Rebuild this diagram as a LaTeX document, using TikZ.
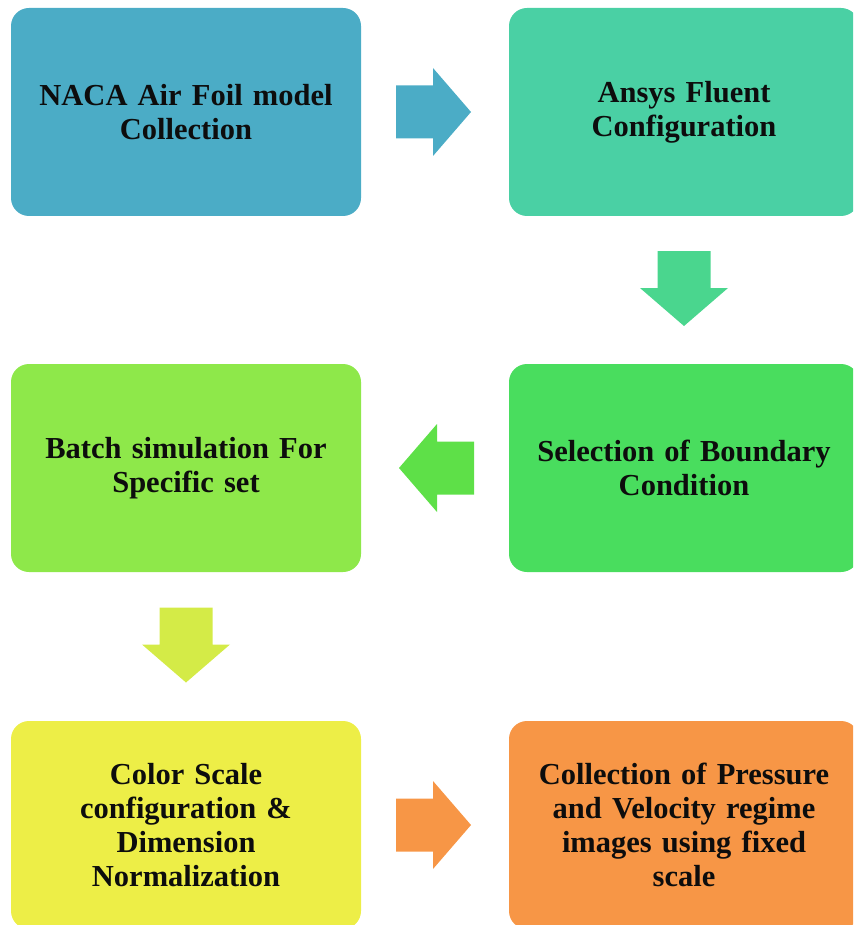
\documentclass[tikz,border=0pt]{standalone}
\usepackage{fontspec}
\setmainfont{Liberation Serif}
\usetikzlibrary{calc}

\definecolor{cNaca}{HTML}{4BACC6}
\definecolor{cAnsys}{HTML}{4AD0A4}
\definecolor{cAnsysArr}{HTML}{4AD68E}
\definecolor{cBound}{HTML}{49DD5E}
\definecolor{cBoundArr}{HTML}{5EE048}
\definecolor{cBatch}{HTML}{8EE84A}
\definecolor{cBatchArr}{HTML}{D4EB47}
\definecolor{cColor}{HTML}{EDEE47}
\definecolor{cOut}{HTML}{F79646}
\definecolor{ink}{HTML}{0D0D0D}

\tikzset{
  x=1pt, y=-1pt,
  stagebox/.style={rectangle, rounded corners=18pt, minimum width=350pt,
    minimum height=208pt, inner sep=0pt, text width=340pt, align=center,
    font=\fontsize{30.5}{34}\selectfont\bfseries, text=ink},
  blockarrow/.pic={
    \fill (-37,-26.5) -- (0,-26.5) -- (0,-44) -- (38,0) -- (0,44)
          -- (0,26.5) -- (-37,26.5) -- cycle;
  }
}

\begin{document}
\begin{tikzpicture}
\useasboundingbox (0,0) rectangle (853,925);
\clip (0,0) rectangle (853,925);

% process stages
\node[stagebox, fill=cNaca]   (naca)  at (186,112) {NACA Air Foil model\\Collection};
\node[stagebox, fill=cAnsys]  (ansys) at (684,112) {Ansys Fluent\\Configuration};
\node[stagebox, fill=cBound]  (bound) at (684,468) {Selection of Boundary\\Condition};
\node[stagebox, fill=cBatch]  (batch) at (186,468) {Batch simulation For\\Specific set};
\node[stagebox, fill=cColor]  (scale) at (186,825) {Color Scale\\configuration \&\\Dimension\\Normalization};
\node[stagebox, fill=cOut]    (out)   at (684,825) {Collection of Pressure\\and Velocity regime\\images using fixed\\scale};

% block arrows between consecutive stages
\path[fill=cNaca]     ($(naca.east)!0.5!(ansys.west)$)  ++(-2,0) pic {blockarrow};
\path[fill=cAnsysArr] ($(ansys.south)!0.5!(bound.north)$) ++(0,-2) pic[rotate=-90] {blockarrow};
\path[fill=cBoundArr] ($(bound.west)!0.5!(batch.east)$) ++(2,0) pic[rotate=180] {blockarrow};
\path[fill=cBatchArr] ($(batch.south)!0.5!(scale.north)$) ++(0,-2) pic[rotate=-90] {blockarrow};
\path[fill=cOut]      ($(scale.east)!0.5!(out.west)$)   ++(-2,0) pic {blockarrow};
\end{tikzpicture}
\end{document}
